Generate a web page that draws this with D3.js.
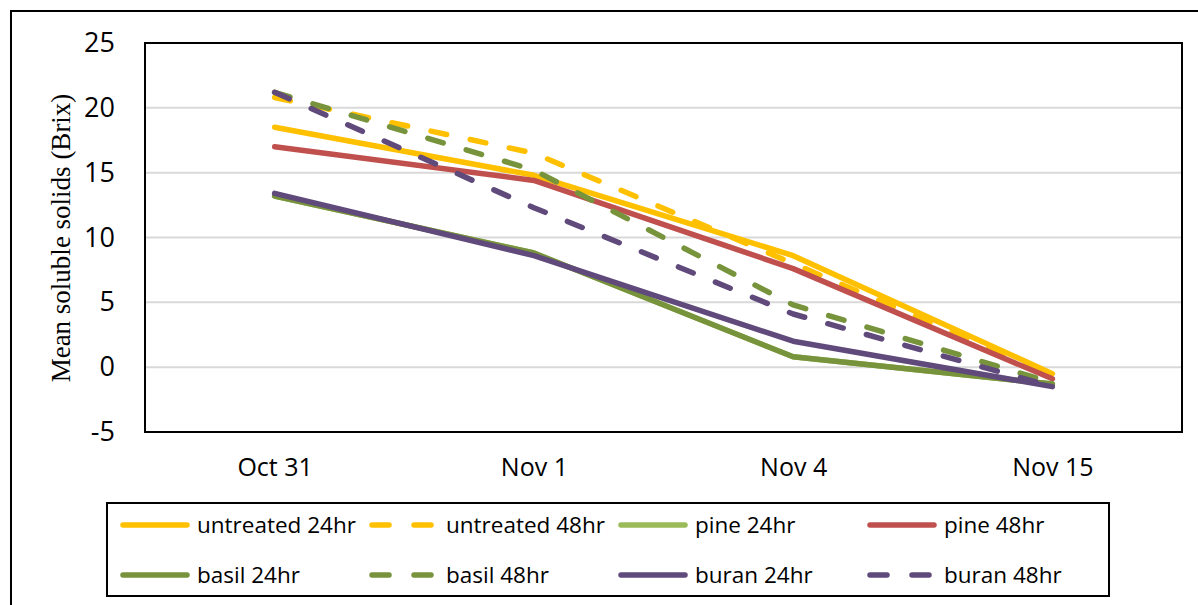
<!DOCTYPE html>
<html>
<head>
<meta charset="utf-8">
<script src="https://cdn.jsdelivr.net/npm/d3@7"></script>
<style>
  html, body { margin: 0; padding: 0; background: #fff; }
  svg { display: block; }
</style>
</head>
<body>
<svg id="chart" width="1198" height="605"></svg>
<script>
// Sampling dates
const dates = ["Oct 31", "Nov 1", "Nov 4", "Nov 15"];
const yTicks = [-5, 0, 5, 10, 15, 20, 25];

// Mean soluble solids (Brix) per treatment
const untreated24 = [18.5, 14.8, 8.6, -0.5];
const untreated48 = [20.8, 16.5, 8.0, -0.6];
const pine24      = [13.2, 8.8, 0.8, -1.3];
const pine48      = [17.0, 14.4, 7.6, -0.9];
const basil24     = [13.2, 8.8, 0.8, -1.3];
const basil48     = [21.2, 15.2, 4.8, -1.2];
const buran24     = [13.4, 8.6, 2.0, -1.5];
const buran48     = [21.2, 12.3, 4.1, -1.5];

const series = [
  { name: "untreated 24hr", values: untreated24, color: "#FFC000", dashed: false },
  { name: "untreated 48hr", values: untreated48, color: "#FFC000", dashed: true },
  { name: "pine 24hr",      values: pine24,      color: "#9BBB59", dashed: false },
  { name: "pine 48hr",      values: pine48,      color: "#C0504D", dashed: false },
  { name: "basil 24hr",     values: basil24,     color: "#77933C", dashed: false },
  { name: "basil 48hr",     values: basil48,     color: "#77933C", dashed: true },
  { name: "buran 24hr",     values: buran24,     color: "#604A7B", dashed: false },
  { name: "buran 48hr",     values: buran48,     color: "#604A7B", dashed: true }
];

const svg = d3.select("#chart");
const font = "'Open Sans', sans-serif";
const plot = { left: 145, right: 1182, top: 43, bottom: 432 };

// Outer chart frame
svg.append("rect")
  .attr("x", 11).attr("y", 11)
  .attr("width", 1300).attr("height", 700)
  .attr("fill", "#fff").attr("stroke", "#000").attr("stroke-width", 2);

const x = d3.scalePoint().domain(dates).range([plot.left, plot.right]).padding(0.5);
const y = d3.scaleLinear().domain([-5, 25]).range([plot.bottom, plot.top]);

// Horizontal gridlines
svg.append("g")
  .selectAll("line")
  .data(yTicks)
  .join("line")
  .attr("x1", plot.left).attr("x2", plot.right)
  .attr("y1", d => y(d)).attr("y2", d => y(d))
  .attr("stroke", "#d9d9d9").attr("stroke-width", 2);

// Y axis labels
const yAxis = svg.append("g")
  .attr("transform", `translate(${plot.left - 30},0)`)
  .call(d3.axisLeft(y).tickValues(yTicks).tickSize(0).tickPadding(0).tickFormat(d => String(d)));
yAxis.select(".domain").remove();
yAxis.selectAll("text")
  .attr("font-family", font).attr("font-size", 27).attr("fill", "#000");

// X axis labels
const xAxis = svg.append("g")
  .attr("transform", `translate(0,${plot.bottom + 26})`)
  .call(d3.axisBottom(x).tickSize(0).tickPadding(0));
xAxis.select(".domain").remove();
xAxis.selectAll("text")
  .attr("font-family", font).attr("font-size", 25).attr("fill", "#000");

// Y axis title
svg.append("text")
  .attr("transform", "translate(70,238) rotate(-90)")
  .attr("text-anchor", "middle")
  .attr("font-family", "'Liberation Serif', 'Times New Roman', serif")
  .attr("font-size", 27)
  .attr("fill", "#000")
  .text("Mean soluble solids (Brix)");

// Series lines
const line = d3.line()
  .x((d, i) => x(dates[i]))
  .y(d => y(d));

svg.append("g")
  .selectAll("path")
  .data(series)
  .join("path")
  .attr("d", s => line(s.values))
  .attr("fill", "none")
  .attr("stroke", s => s.color)
  .attr("stroke-width", 5.5)
  .attr("stroke-linecap", "round")
  .attr("stroke-linejoin", "round")
  .attr("stroke-dasharray", s => s.dashed ? "16,24" : null);

// Plot area border
svg.append("rect")
  .attr("x", plot.left).attr("y", plot.top)
  .attr("width", plot.right - plot.left).attr("height", plot.bottom - plot.top)
  .attr("fill", "none").attr("stroke", "#000").attr("stroke-width", 2);

// Legend
const legend = svg.append("g");
legend.append("rect")
  .attr("x", 107).attr("y", 503)
  .attr("width", 1002).attr("height", 93)
  .attr("fill", "#fff").attr("stroke", "#000").attr("stroke-width", 2);

const colX = [121, 370, 619, 868];
const rowY = [525, 575];
const items = legend.selectAll("g.item")
  .data(series)
  .join("g")
  .attr("class", "item")
  .attr("transform", (s, i) => `translate(${colX[i % 4]},${rowY[Math.floor(i / 4)]})`);

items.append("line")
  .attr("x1", 2).attr("x2", 66)
  .attr("y1", 0).attr("y2", 0)
  .attr("stroke", s => s.color)
  .attr("stroke-width", 5.5)
  .attr("stroke-linecap", "round")
  .attr("stroke-dasharray", s => s.dashed ? "17,25" : null);

items.append("text")
  .attr("x", 76).attr("y", 0)
  .attr("dy", "0.35em")
  .attr("font-family", font).attr("font-size", 22.5).attr("fill", "#000")
  .text(s => s.name);
</script>
</body>
</html>
